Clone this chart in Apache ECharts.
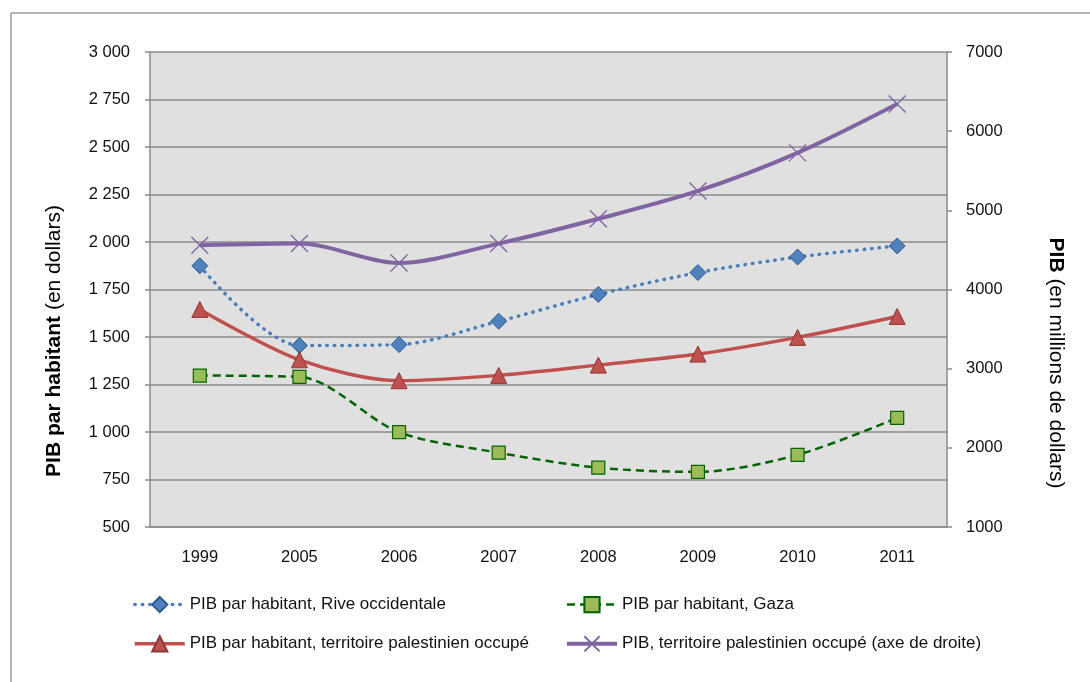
<!DOCTYPE html>
<html>
<head>
<meta charset="utf-8">
<script src="https://cdn.jsdelivr.net/npm/echarts@6/dist/echarts.min.js"></script>
<style>
html,body{margin:0;padding:0;background:#fff;}
#chart{width:1090px;height:682px;}
</style>
</head>
<body>
<div id="chart"></div>
<script>
var categories = ['1999', '2005', '2006', '2007', '2008', '2009', '2010', '2011'];
var riveOccidentale = [1875, 1455, 1460, 1583, 1724, 1839, 1921, 1979];
var gaza = [1297, 1290, 999, 891, 812, 790, 880, 1074];
var territoire = [1645, 1380, 1270, 1298, 1352, 1410, 1498, 1608];
var pibTotal = [4560, 4580, 4335, 4580, 4893, 5245, 5726, 6343];
var seriesNames = [
  'PIB par habitant, Rive occidentale',
  'PIB par habitant, Gaza',
  'PIB par habitant, territoire palestinien occupé',
  'PIB, territoire palestinien occupé (axe de droite)'
];
var leftTitleBold = 'PIB par habitant';
var leftTitleRest = ' (en dollars)';
var rightTitleBold = 'PIB';
var rightTitleRest = ' (en millions de dollars)';

var FONT = 'Liberation Sans, Arial, sans-serif';
var chart = echarts.init(document.getElementById('chart'), null, {renderer: 'canvas'});

function fmtLeft(v) {
  var s = String(v);
  if (v >= 1000) s = s.slice(0, s.length - 3) + ' ' + s.slice(s.length - 3);
  return s;
}
function fmtRight(v) { return String(v); }

var legendCommon = {
  orient: 'vertical', itemGap: 22, top: 591,
  itemWidth: 50, itemHeight: 19,
  lineStyle: {width: 'inherit', type: 'inherit', cap: 'inherit'},
  textStyle: {fontSize: 17, fontFamily: FONT, color: '#111'}
};

var option = {
  backgroundColor: '#ffffff',
  animation: false,
  textStyle: {fontFamily: FONT},
  grid: {left: 150, right: 143, top: 52, bottom: 155, show: true, backgroundColor: '#e0e0e0', borderWidth: 0},
  xAxis: [{
    type: 'category',
    data: categories,
    axisLine: {lineStyle: {color: '#8a8a8a', width: 1.5}},
    axisTick: {inside: true, length: 8, lineStyle: {color: '#8a8a8a', width: 1.5}},
    axisLabel: {color: '#111', fontSize: 16.5, fontFamily: FONT, margin: 22},
    splitLine: {show: false}
  }, {
    type: 'category',
    data: categories,
    position: 'bottom',
    axisLine: {show: false},
    axisTick: {inside: false, length: 5, lineStyle: {color: '#8a8a8a', width: 1.5}},
    axisLabel: {show: false},
    splitLine: {show: false}
  }],
  yAxis: [{
    type: 'value',
    min: 500, max: 3000, interval: 250,
    position: 'left',
    axisLine: {show: true, lineStyle: {color: '#8a8a8a', width: 1.5}},
    axisTick: {show: true, length: 5, lineStyle: {color: '#8a8a8a', width: 1.5}},
    axisLabel: {color: '#111', fontSize: 16.5, fontFamily: FONT, margin: 20, formatter: fmtLeft},
    splitLine: {show: true, lineStyle: {color: '#8c8c8c', width: 1.5}}
  }, {
    type: 'value',
    min: 1000, max: 7000, interval: 1000,
    position: 'right',
    axisLine: {show: true, lineStyle: {color: '#8a8a8a', width: 1.5}},
    axisTick: {show: true, length: 5, lineStyle: {color: '#8a8a8a', width: 1.5}},
    axisLabel: {color: '#111', fontSize: 16.5, fontFamily: FONT, margin: 19, formatter: fmtRight},
    splitLine: {show: false}
  }],
  legend: [
    Object.assign({left: 128, data: [seriesNames[0], seriesNames[2]]}, legendCommon),
    Object.assign({left: 560, data: [seriesNames[1], seriesNames[3]]}, legendCommon)
  ],
  series: [{
    name: seriesNames[0],
    type: 'line',
    data: riveOccidentale,
    smooth: 0.3,
    symbol: 'diamond', symbolSize: 16,
    lineStyle: {color: '#4a7ebb', width: 3.5, type: [0.5, 7], cap: 'round'},
    itemStyle: {color: '#4f81bd', borderColor: '#2f5a8f', borderWidth: 1}
  }, {
    name: seriesNames[1],
    type: 'line',
    data: gaza,
    smooth: 0.3,
    symbol: 'rect', symbolSize: 13,
    lineStyle: {color: '#006400', width: 2.5, type: [8, 5]},
    itemStyle: {color: '#9bbb59', borderColor: '#006400', borderWidth: 1.2}
  }, {
    name: seriesNames[2],
    type: 'line',
    data: territoire,
    smooth: 0.3,
    symbol: 'triangle', symbolSize: 16,
    lineStyle: {color: '#c0504d', width: 3.5},
    itemStyle: {color: '#c0504d', borderColor: '#8c3836', borderWidth: 1}
  }, {
    name: seriesNames[3],
    type: 'line',
    yAxisIndex: 1,
    data: pibTotal,
    smooth: 0.3,
    symbol: 'path://M0,0L10,10M10,0L0,10', symbolSize: 17,
    lineStyle: {color: '#8064a2', width: 4},
    itemStyle: {color: '#8064a2', borderColor: '#8064a2', borderWidth: 1.3}
  }],
  graphic: [{
    type: 'line',
    shape: {x1: 11, y1: 13, x2: 1090, y2: 13},
    style: {stroke: '#9a9a9a', lineWidth: 1.5}
  }, {
    type: 'line',
    shape: {x1: 11, y1: 13, x2: 11, y2: 682},
    style: {stroke: '#9a9a9a', lineWidth: 1.5}
  }, {
    type: 'text',
    x: 54, y: 341,
    rotation: Math.PI / 2,
    style: {
      text: '{b|' + leftTitleBold + '}{n|' + leftTitleRest + '}',
      align: 'center', verticalAlign: 'middle',
      rich: {
        b: {fontSize: 21, fontWeight: 'bold', fontFamily: FONT, fill: '#000'},
        n: {fontSize: 21, fontFamily: FONT, fill: '#000'}
      }
    }
  }, {
    type: 'text',
    x: 1056, y: 363,
    rotation: -Math.PI / 2,
    style: {
      text: '{b|' + rightTitleBold + '}{n|' + rightTitleRest + '}',
      align: 'center', verticalAlign: 'middle',
      rich: {
        b: {fontSize: 21, fontWeight: 'bold', fontFamily: FONT, fill: '#000'},
        n: {fontSize: 21, fontFamily: FONT, fill: '#000'}
      }
    }
  }]
};
chart.setOption(option);
</script>
</body>
</html>
